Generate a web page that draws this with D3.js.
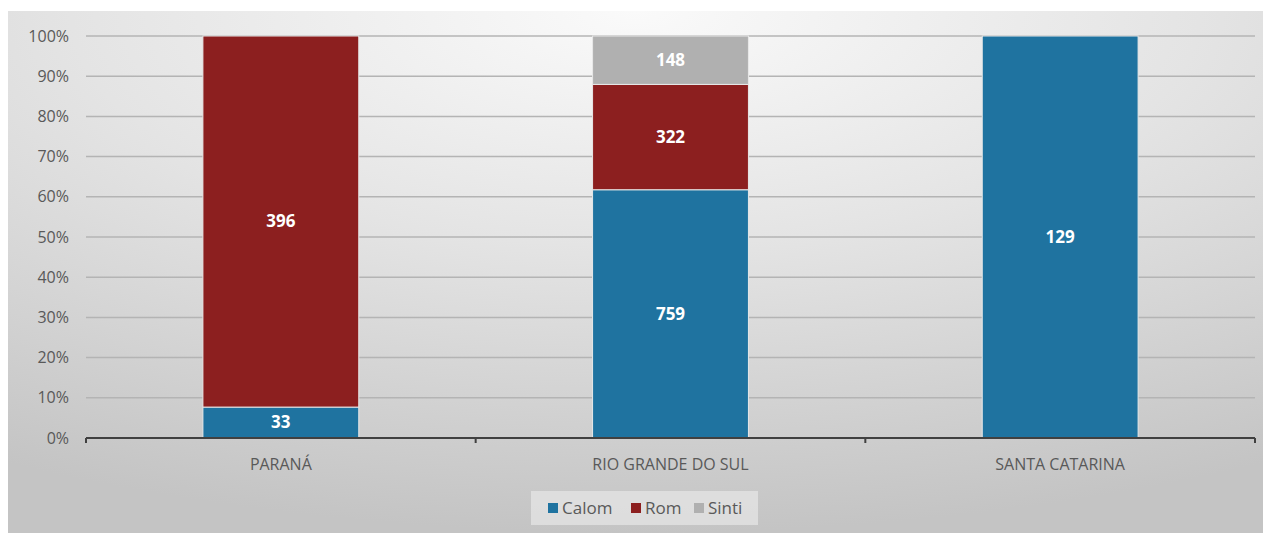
<!DOCTYPE html>
<html>
<head>
<meta charset="utf-8">
<script src="https://cdn.jsdelivr.net/npm/d3@7"></script>
<style>
  body { margin: 0; background: #fff; }
  svg { display: block; font-family: "Open Sans", "Noto Sans", sans-serif; }
</style>
</head>
<body>
<div id="chart"></div>
<script>
// values
const states = ['PARANÁ', 'RIO GRANDE DO SUL', 'SANTA CATARINA'];
const groups = ['Calom', 'Rom', 'Sinti'];
const calom = [33, 759, 129];
const rom = [396, 322, 0];
const sinti = [0, 148, 0];
const yTicks = [0, 0.1, 0.2, 0.3, 0.4, 0.5, 0.6, 0.7, 0.8, 0.9, 1];
const groupColors = ['#1f73a0', '#8c1f1f', '#b0b0b0'];

const width = 1266;
const height = 534;
const margin = { top: 36, right: 11, bottom: 96, left: 86 };

const svg = d3.select('#chart')
    .append('svg')
    .attr('width', width)
    .attr('height', height);

// panel background
const defs = svg.append('defs');
const grad = defs.append('radialGradient')
    .attr('id', 'bg')
    .attr('cx', '50%').attr('cy', '0%')
    .attr('r', '100%');
grad.append('stop').attr('offset', '0%').attr('stop-color', '#fafafa');
grad.append('stop').attr('offset', '45%').attr('stop-color', '#e4e4e4');
grad.append('stop').attr('offset', '100%').attr('stop-color', '#c4c4c4');

svg.append('rect')
    .attr('x', 8).attr('y', 11)
    .attr('width', 1255).attr('height', 522)
    .attr('fill', 'url(#bg)');

const x = d3.scaleBand()
    .domain(states)
    .range([margin.left, width - margin.right])
    .paddingInner(0.6)
    .paddingOuter(0.3);

const y = d3.scaleLinear()
    .domain([0, 1])
    .range([height - margin.bottom, margin.top]);

// gridlines
svg.append('g')
    .selectAll('line')
    .data(yTicks.slice(1))
    .enter()
    .append('line')
    .attr('x1', margin.left)
    .attr('x2', width - margin.right)
    .attr('y1', d => y(d))
    .attr('y2', d => y(d))
    .attr('stroke', '#b4b4b4')
    .attr('stroke-width', 1.5);

// y labels
svg.append('g')
    .selectAll('text')
    .data(yTicks)
    .enter()
    .append('text')
    .attr('x', 69)
    .attr('y', d => y(d))
    .attr('dy', '0.35em')
    .attr('text-anchor', 'end')
    .attr('font-size', 16)
    .attr('fill', '#595959')
    .text(d => d3.format('.0%')(d));

// stack data
const rows = states.map((s, i) => ({ state: s, Calom: calom[i], Rom: rom[i], Sinti: sinti[i] }));
const stacked = d3.stack().keys(groups).offset(d3.stackOffsetExpand)(rows);

const layers = svg.append('g')
    .selectAll('g')
    .data(stacked)
    .enter()
    .append('g')
    .attr('fill', (d, i) => groupColors[i]);

layers.selectAll('rect')
    .data(d => d.filter(p => p[1] - p[0] > 0))
    .enter()
    .append('rect')
    .attr('x', d => x(d.data.state))
    .attr('width', x.bandwidth())
    .attr('y', d => y(d[1]))
    .attr('height', d => y(d[0]) - y(d[1]))
    .attr('stroke', '#e8e8e8')
    .attr('stroke-width', 1);

layers.selectAll('text')
    .data((d) => d.filter(p => p[1] - p[0] > 0).map(p => ({ p, key: d.key })))
    .enter()
    .append('text')
    .attr('x', d => x(d.p.data.state) + x.bandwidth() / 2)
    .attr('y', d => y((d.p[0] + d.p[1]) / 2))
    .attr('dy', '0.35em')
    .attr('text-anchor', 'middle')
    .attr('font-size', 17)
    .attr('font-weight', 'bold')
    .attr('fill', '#fff')
    .text(d => d.p.data[d.key]);

// x axis line with ticks at band edges
const x0 = margin.left, x1 = width - margin.right, y0 = y(0);
const step = (x1 - x0) / states.length;
const axisG = svg.append('g');
axisG.append('line')
    .attr('x1', x0).attr('x2', x1)
    .attr('y1', y0).attr('y2', y0)
    .attr('stroke', '#404040')
    .attr('stroke-width', 2);
axisG.selectAll('.tick')
    .data(d3.range(states.length + 1))
    .enter()
    .append('line')
    .attr('x1', i => x0 + i * step)
    .attr('x2', i => x0 + i * step)
    .attr('y1', y0)
    .attr('y2', y0 + 5)
    .attr('stroke', '#404040')
    .attr('stroke-width', 2);

axisG.selectAll('text')
    .data(states)
    .enter()
    .append('text')
    .attr('x', d => x(d) + x.bandwidth() / 2)
    .attr('y', y0 + 32)
    .attr('text-anchor', 'middle')
    .attr('font-size', 16)
    .attr('fill', '#595959')
    .text(d => d);

// legend
const legend = svg.append('g');
legend.append('rect')
    .attr('x', 531).attr('y', 491)
    .attr('width', 227).attr('height', 34)
    .attr('fill', '#ececec')
    .attr('opacity', 0.6);
const legendX = [548, 631, 694];
const items = legend.selectAll('.item')
    .data(groups)
    .enter()
    .append('g')
    .attr('transform', (d, i) => `translate(${legendX[i]},508)`);
items.append('rect')
    .attr('x', 0).attr('y', -5)
    .attr('width', 10).attr('height', 10)
    .attr('fill', (d, i) => groupColors[i]);
items.append('text')
    .attr('x', 14)
    .attr('dy', '0.35em')
    .attr('font-size', 17)
    .attr('fill', '#595959')
    .text(d => d);
</script>
</body>
</html>
